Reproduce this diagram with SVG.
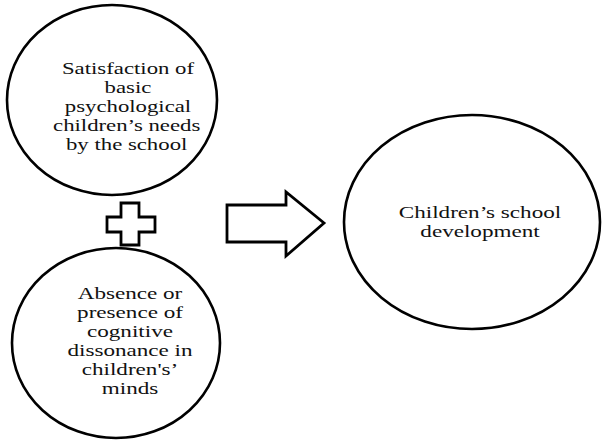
<svg xmlns="http://www.w3.org/2000/svg" width="602" height="441" viewBox="0 0 602 441">
<style>
.node{fill:#fff;stroke:#000;stroke-width:2.6}
.conn{fill:#fff;stroke:#000;stroke-width:2.8;stroke-linejoin:miter}
text{font-family:'Liberation Serif','DejaVu Serif','Times New Roman',serif;fill:#111;text-anchor:middle;font-size:17px}
</style>
<rect width="602" height="441" fill="#fff"/>
<g id="node-satisfaction">
<ellipse class="node" cx="112" cy="100" rx="105" ry="95"/>
<g transform="translate(128 0) scale(1.34 1)">
<text x="0" y="74">Satisfaction of</text>
<text x="0" y="93">basic</text>
<text x="0" y="112">psychological</text>
<text x="-1" y="131">children’s needs</text>
<text x="-1" y="150">by the school</text>
</g>
</g>
<g id="node-dissonance">
<ellipse class="node" cx="116" cy="343" rx="104" ry="95"/>
<g transform="translate(130 0) scale(1.36 1)">
<text x="0" y="299">Absence or</text>
<text x="0" y="318">presence of</text>
<text x="0" y="337">cognitive</text>
<text x="0" y="356">dissonance in</text>
<text x="0" y="375">children's’</text>
<text x="0" y="394">minds</text>
</g>
</g>
<g id="node-development">
<ellipse class="node" cx="472" cy="222" rx="128" ry="107"/>
<g transform="translate(480 0) scale(1.36 1)">
<text x="0" y="218">Children’s school</text>
<text x="0" y="237">development</text>
</g>
</g>
<g id="connectors">
<path class="conn" d="M121,203 H139 V217 H155 V232 H139 V245 H121 V232 H107 V217 H121 Z"/>
<path class="conn" d="M227,205 H286 V192 L324,223 L286,256 V242 H227 Z"/>
</g>
</svg>
